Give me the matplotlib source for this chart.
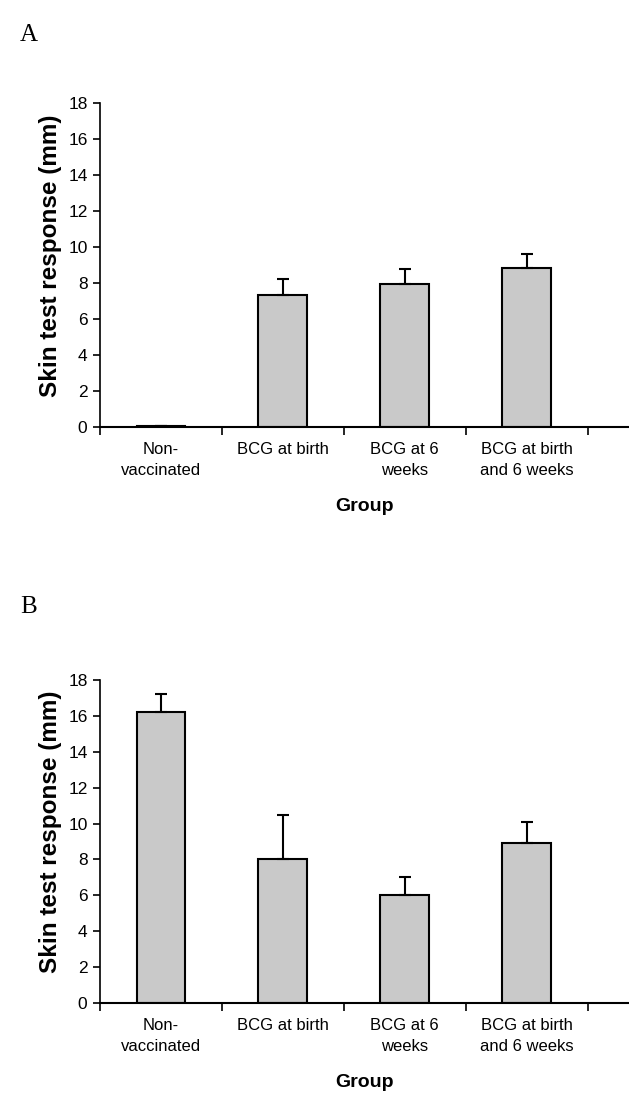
import matplotlib
matplotlib.use("Agg")
import matplotlib.pyplot as plt
import numpy as np

plt.rcParams['font.family'] = ['Liberation Sans', 'DejaVu Sans']

groups = ["Non-\nvaccinated", "BCG at birth", "BCG at 6\nweeks", "BCG at birth\nand 6 weeks"]
means_a = [0.08, 7.35, 7.95, 8.85]
err_a = [0.0, 0.88, 0.85, 0.78]
means_b = [16.2, 8.0, 6.0, 8.9]
err_b = [1.0, 2.5, 1.0, 1.2]
yticks = [0, 2, 4, 6, 8, 10, 12, 14, 16, 18]

fig = plt.figure(figsize=(6.29, 11.01), dpi=100)
W, H = 629, 1101

def panel(top_px, bottom_px, means, errs, letter, letter_y):
    ax = fig.add_axes([100 / W, 1 - bottom_px / H, 1 - 100 / W, (bottom_px - top_px) / H])
    x = np.arange(len(groups))
    ax.bar(x, means, width=0.4, color='#c9c9c9', edgecolor='black', linewidth=1.5, zorder=2)
    ax.errorbar(x, means, yerr=[np.zeros(len(errs)), errs], fmt='none', ecolor='black',
                elinewidth=1.5, capsize=4.5, capthick=1.5, zorder=3)
    ax.set_xlim(-0.5, 3.84)
    ax.set_ylim(0, 18)
    ax.set_yticks(yticks)
    ax.set_xticks(x)
    ax.set_xticklabels(groups, fontsize=12, linespacing=1.5)
    ax.set_xticks([-0.5, 0.5, 1.5, 2.5, 3.5], minor=True)
    ax.tick_params(axis='x', which='major', length=0, pad=11)
    ax.tick_params(axis='x', which='minor', length=6, width=1.2, direction='out')
    ax.tick_params(axis='y', length=5, width=1.2, labelsize=12.5, pad=4)
    for s in ['top', 'right']:
        ax.spines[s].set_visible(False)
    ax.spines['left'].set_linewidth(1.2)
    ax.spines['bottom'].set_linewidth(1.5)
    ax.set_ylabel("Skin test response (mm)", fontsize=17.5, fontweight='bold')
    ax.yaxis.set_label_coords(-0.072, 0.53)
    ax.set_xlabel("Group", fontsize=14, fontweight='bold', labelpad=14)
    fig.text(20 / W, 1 - letter_y / H, letter, fontsize=18, family='Liberation Serif',
             va='center', ha='left')
    return ax

panel(103, 427, means_a, err_a, "A", 35)
panel(680, 1003, means_b, err_b, "B", 607)

fig.savefig("out.png", dpi=100)
